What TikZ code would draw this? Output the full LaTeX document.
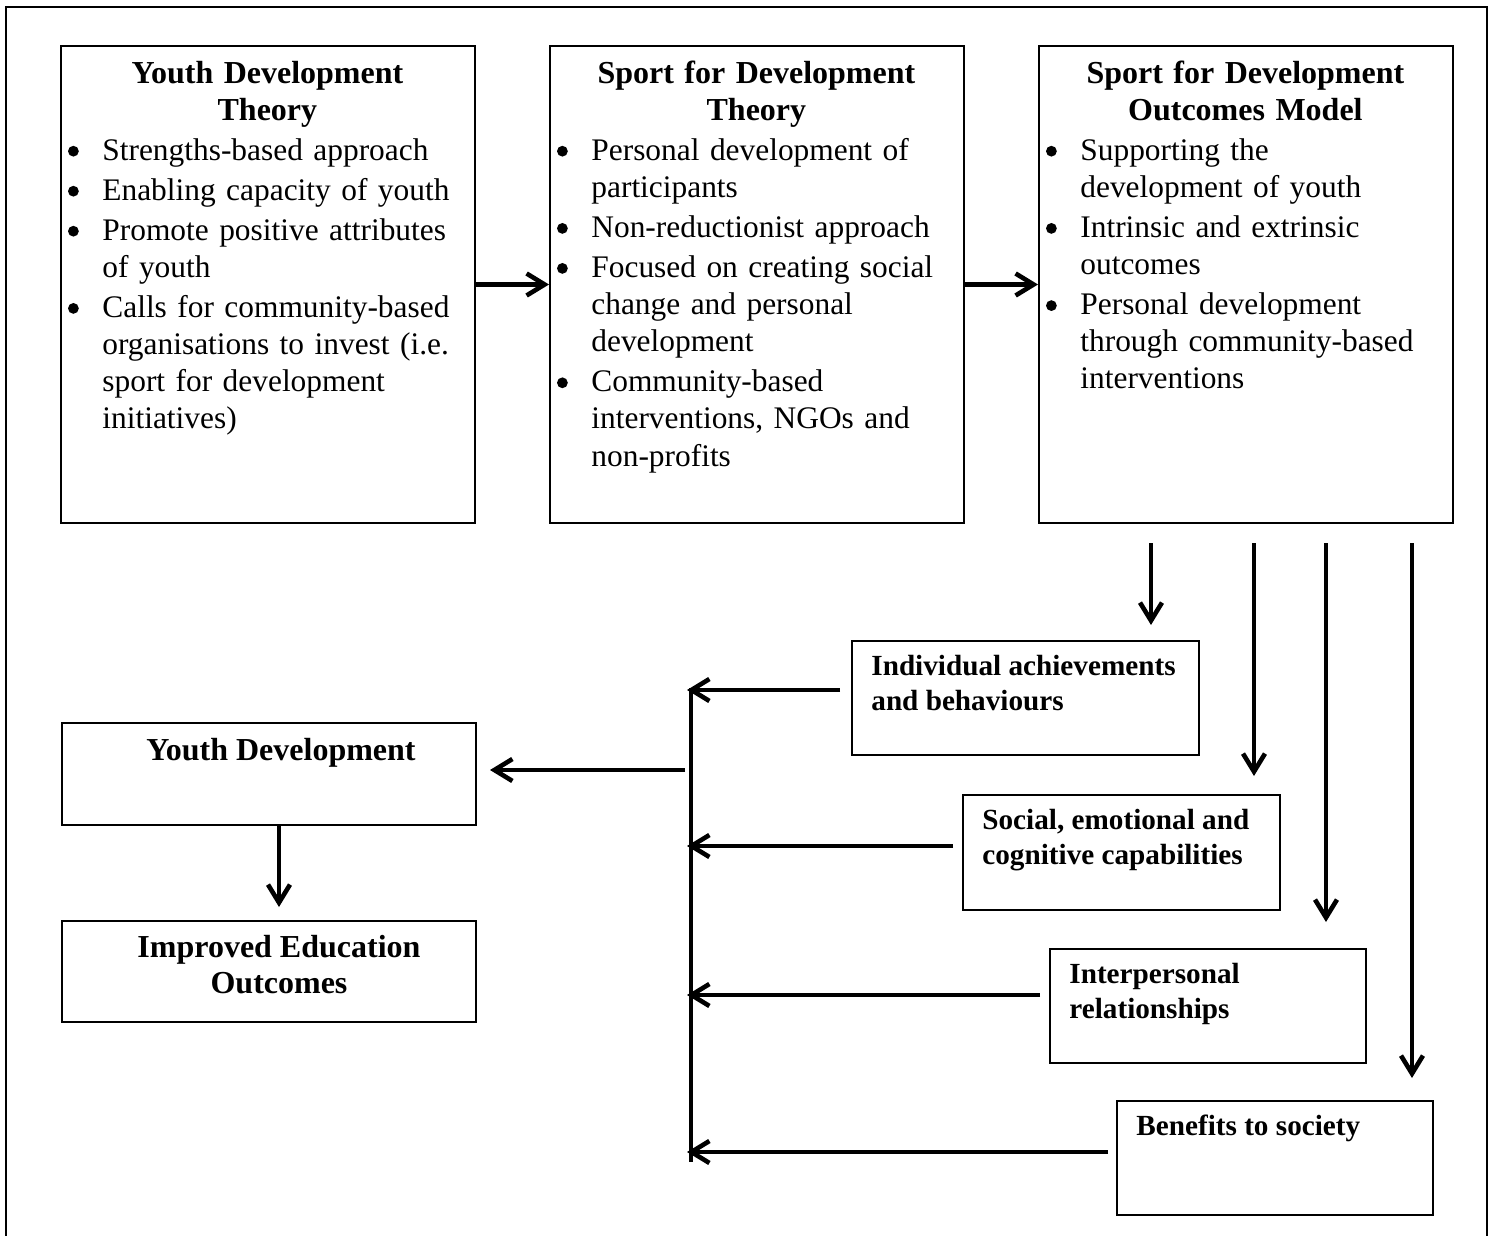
\documentclass[tikz,border=0pt]{standalone}
\usepackage{fontspec}
\setmainfont{Liberation Serif}
\usetikzlibrary{arrows.meta}
\setlength{\parskip}{0pt}
\setlength{\parindent}{0pt}
\newcommand{\fs}{\rule{0pt}{12pt}}
\newcommand{\bdot}{\raisebox{1.8pt}{\tikz\fill (0,0) circle (2.7pt);}}
\newcommand{\bitem}[1]{\par\vspace{1.4pt}\hangindent=21pt\hangafter=1\noindent\hbox to 21pt{\hspace{3.8pt}\bdot\hfil}#1\par}
\newcommand{\ttlx}[1]{{\centering\fontsize{16}{18.4}\selectfont\bfseries\fs #1\par}}
\begin{document}
\begin{tikzpicture}[x=0.5pt,y=-0.5pt,
  box/.style={draw, line width=1pt, inner sep=0pt, anchor=north west},
  body/.style={anchor=north west, inner sep=0pt, text width=207pt, font=\fontsize{15.7}{18.6}\selectfont},
  ob/.style={anchor=north west, inner sep=0pt, align=left, font=\fontsize{14.6}{17.5}\selectfont\bfseries},
  lb/.style={inner sep=0pt, font=\fontsize{16}{18}\selectfont\bfseries},
  arr/.style={line width=2.3pt, -{Straight Barb[length=9pt,width=11pt]}},
  bus/.style={line width=2.3pt}]
\useasboundingbox (0,0) rectangle (1496,1236);
% outer frame
\draw[line width=1.2pt] (6,1236) -- (6,7) -- (1487,7) -- (1487,1236);
% top boxes
\node[box, minimum width=207pt, minimum height=238.5pt] (b1) at (60,45) {};
\node[box, minimum width=207pt, minimum height=238.5pt] (b2) at (549,45) {};
\node[box, minimum width=207pt, minimum height=238.5pt] (b3) at (1038,45) {};
\node[body] (t1) at (60,59) {\raggedright
  \ttlx{Youth Development\\Theory}
  \bitem{Strengths-based approach}
  \bitem{Enabling capacity of youth}
  \bitem{Promote positive attributes\newline of youth}
  \bitem{Calls for community-based\newline organisations to invest (i.e.\newline sport for development\newline initiatives)}};
\node[body] (t2) at (549,59) {\raggedright
  \ttlx{Sport for Development\\Theory}
  \bitem{Personal development of\newline participants}
  \bitem{Non-reductionist approach}
  \bitem{Focused on creating social\newline change and personal\newline development}
  \bitem{Community-based\newline interventions, NGOs and\newline non-profits}};
\node[body] (t3) at (1038,59) {\raggedright
  \ttlx{Sport for Development\\Outcomes Model}
  \bitem{Supporting the\newline development of youth}
  \bitem{Intrinsic and extrinsic\newline outcomes}
  \bitem{Personal development\newline through community-based\newline interventions}};
% outcome boxes
\node[box, minimum width=173.5pt, minimum height=57pt] (ia) at (851,640) {};
\node[box, minimum width=158.5pt, minimum height=57.5pt] (se) at (962,794) {};
\node[box, minimum width=158pt, minimum height=57pt] (ir) at (1049,948) {};
\node[box, minimum width=158pt, minimum height=57pt] (bs) at (1116,1100) {};
\node[ob] (tia) at (871,651) {\fs Individual achievements\\and behaviours};
\node[ob] (tse) at (982,805) {\fs Social, emotional and\\cognitive capabilities};
\node[ob] (tir) at (1069,959) {\fs Interpersonal\\relationships};
\node[ob] (tbs) at (1136,1111) {\fs Benefits to society};
% lower left boxes
\node[box, minimum width=207pt, minimum height=51pt] (yd) at (61,722) {};
\node[box, minimum width=207pt, minimum height=50.5pt] (ieo) at (61,920) {};
\node[lb, anchor=base] (tyd) at (281,760) {Youth Development};
\node[lb, anchor=north, align=center] (tieo) at (279,933) {\fs Improved Education\\Outcomes};
% connectors
\draw[arr] (b1.east) -- (b2.west);
\draw[arr] (b2.east) -- (b3.west);
\coordinate (d1) at (1151,543);
\coordinate (d2) at (1254,543);
\coordinate (d3) at (1326,543);
\coordinate (d4) at (1412,543);
\draw[arr] (d1) -- ([yshift=7.5pt]ia.north -| d1);
\draw[arr] (d2) -- ([yshift=9pt]se.north -| d2);
\draw[arr] (d3) -- ([yshift=13pt]ir.north -| d3);
\draw[arr] (d4) -- ([yshift=11pt]bs.north -| d4);
\coordinate (h1) at (687,690);
\coordinate (h2) at (687,846);
\coordinate (h3) at (687,995);
\coordinate (h4) at (687,1152);
\draw[bus] (691,688) -- (691,1162);
\draw[arr] ([xshift=-5.5pt]ia.west |- h1) -- (h1);
\draw[arr] ([xshift=-4.5pt]se.west |- h2) -- (h2);
\draw[arr] ([xshift=-4.5pt]ir.west |- h3) -- (h3);
\draw[arr] ([xshift=-4pt]bs.west |- h4) -- (h4);
\coordinate (yb) at (685,770);
\draw[arr] (yb) -- ([xshift=6.5pt]yd.east |- yb);
\coordinate (ya) at (279,824);
\draw[arr] (ya) -- ([yshift=6.5pt]ieo.north -| ya);
\end{tikzpicture}
\end{document}
